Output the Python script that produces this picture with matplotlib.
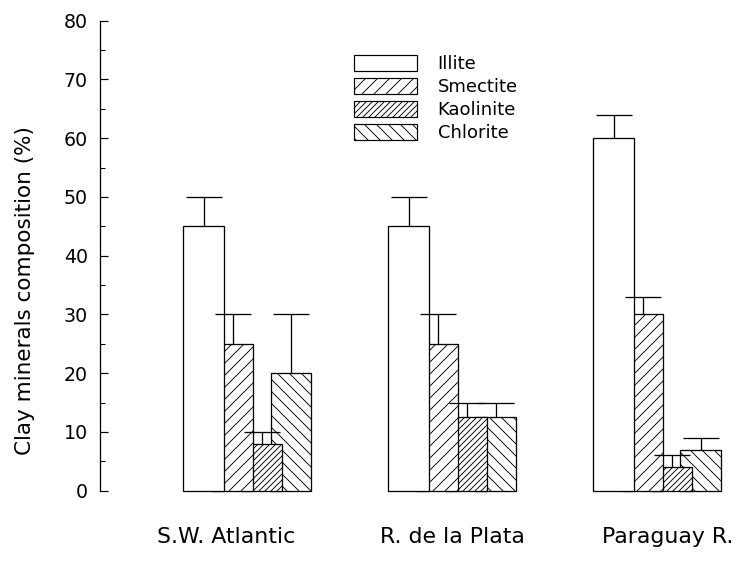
import matplotlib
matplotlib.use("Agg")
import matplotlib.pyplot as plt
from matplotlib.patches import Patch
from matplotlib.ticker import MultipleLocator
import numpy as np

# values
groups = ["S.W. Atlantic", "R. de la Plata", "Paraguay R."]
minerals = ["Illite", "Smectite", "Kaolinite", "Chlorite"]
illite = [45, 45, 60]
smectite = [25, 25, 30]
kaolinite = [8, 12.5, 4]
chlorite = [20, 12.5, 7]
illite_err = [5, 5, 4]
smectite_err = [5, 5, 3]
kaolinite_err = [2, 2.5, 2]
chlorite_err = [10, 2.5, 2]

values = [illite, smectite, kaolinite, chlorite]
errors = [illite_err, smectite_err, kaolinite_err, chlorite_err]
hatches = ["", "//", "////", "\\\\"]

W, H, DPI = 753, 565, 72
plt.rcParams["font.family"] = "DejaVu Sans"
plt.rcParams["hatch.linewidth"] = 0.9

fig = plt.figure(figsize=(W / DPI, H / DPI), dpi=DPI)
ax = fig.add_axes([100 / W, 74.3 / H, (W - 100) / W, 470 / H])

x = np.arange(len(groups))
step, width, cap = 0.1415, 0.2, 0.09   # bars overlap: each one tucked behind the previous
for j, (vals, errs, hat) in enumerate(zip(values, errors, hatches)):
    pos = x + (j - 1.5) * step
    vals, errs = np.array(vals, float), np.array(errs, float)
    z = 5 - j                      # illite in front, chlorite at the back
    ax.bar(pos, vals, width, color="white", edgecolor="black", lw=1.3,
           hatch=hat, zorder=z, clip_on=False)
    # upper error bar only
    ax.vlines(pos, vals, vals + errs, color="black", lw=1.3, zorder=10)
    ax.hlines(vals + errs, pos - cap, pos + cap, color="black", lw=1.3, zorder=10)

ax.set_xlim(-0.7195, 2.466)
ax.set_ylim(0, 80)
ax.yaxis.set_major_locator(MultipleLocator(10))
ax.yaxis.set_minor_locator(MultipleLocator(5))
ax.tick_params(axis="y", which="major", direction="in", length=8, width=1.2,
               labelsize=19, pad=12)
ax.tick_params(axis="y", which="minor", direction="in", length=5, width=1.0)
for s in ("top", "right", "bottom"):
    ax.spines[s].set_visible(False)
ax.spines["left"].set_linewidth(1.3)

label_shift = [-0.105, 0.0, 0.05]
ax.set_xticks(x + np.array(label_shift))
ax.set_xticklabels(groups, fontsize=22)
ax.tick_params(axis="x", length=0, pad=36)

fig.text(25 / W, 1 - 291 / H, "Clay minerals composition (%)", rotation=90,
         ha="center", va="center", fontsize=21.5)

handles = [Patch(facecolor="white", edgecolor="black", lw=1.2, hatch=h)
           for h in hatches]
ax.legend(handles, minerals, loc="upper left", frameon=False, fontsize=18,
          bbox_to_anchor=(354 / W, 1 - 55 / H), bbox_transform=fig.transFigure,
          borderpad=0, borderaxespad=0, handlelength=3.5, handleheight=0.95,
          labelspacing=0.28, handletextpad=1.15)

fig.savefig("out.png", dpi=DPI)
